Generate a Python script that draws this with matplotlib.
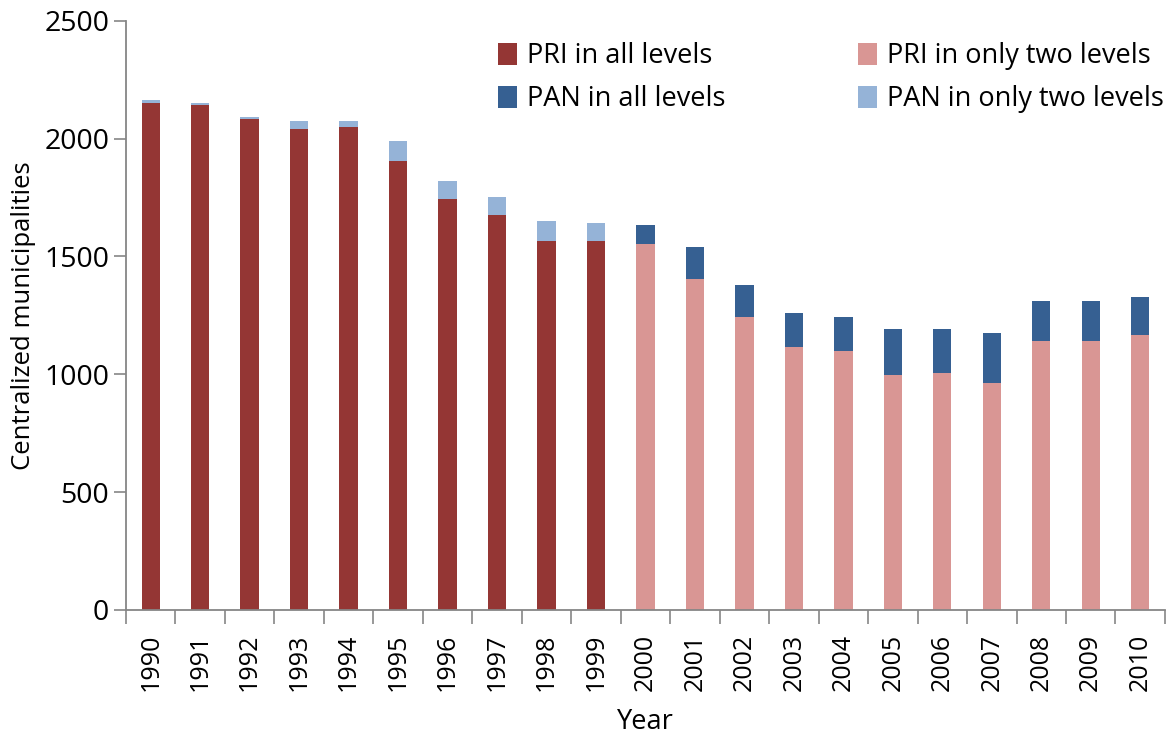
import numpy as np
import matplotlib
matplotlib.use("Agg")
import matplotlib.pyplot as plt

plt.rcParams['font.family'] = ['Open Sans', 'DejaVu Sans']

years = [str(y) for y in range(1990, 2011)]

# values (0 = series absent that year)
pri_all = [2150, 2143, 2084, 2042, 2050, 1904, 1744, 1675, 1565, 1565,
           0, 0, 0, 0, 0, 0, 0, 0, 0, 0, 0]
pri_two = [0, 0, 0, 0, 0, 0, 0, 0, 0, 0,
           1553, 1404, 1242, 1115, 1098, 996, 1005, 962, 1140, 1140, 1166]
pan_all = [0, 0, 0, 0, 0, 0, 0, 0, 0, 0,
           82, 137, 137, 144, 144, 195, 186, 212, 170, 170, 161]
pan_two = [12, 8, 7, 33, 25, 85, 76, 77, 86, 76,
           0, 0, 0, 0, 0, 0, 0, 0, 0, 0, 0]

c_pri_all = '#943634'
c_pri_two = '#d99694'
c_pan_all = '#366092'
c_pan_two = '#95b3d7'

fig = plt.figure(figsize=(11.76, 7.42), dpi=100)
ax = fig.add_axes([0.1071, 0.178, 0.8835, 0.794])

x = np.arange(len(years))
w = 0.37
pri_all = np.array(pri_all)
pri_two = np.array(pri_two)
pan_all = np.array(pan_all)
pan_two = np.array(pan_two)

b1 = ax.bar(x, pri_all, w, color=c_pri_all, label='PRI in all levels')
b2 = ax.bar(x, pri_two, w, bottom=pri_all, color=c_pri_two, label='PRI in only two levels')
base = pri_all + pri_two
b3 = ax.bar(x, pan_all, w, bottom=base, color=c_pan_all, label='PAN in all levels')
b4 = ax.bar(x, pan_two, w, bottom=base + pan_all, color=c_pan_two, label='PAN in only two levels')

ax.set_xlim(-0.5, len(years) - 0.5)
ax.set_ylim(0, 2500)
ax.set_yticks([0, 500, 1000, 1500, 2000, 2500])
ax.tick_params(axis='y', labelsize=20.5, length=9, width=1.2, color='#868686', pad=3)

ax.set_xticks(x)
ax.set_xticklabels(years, rotation=90, fontsize=18)
ax.set_xticks(np.arange(-0.5, len(years), 1.0), minor=True)
ax.tick_params(axis='x', which='major', length=0, pad=17)
ax.tick_params(axis='x', which='minor', length=10, width=1.2, color='#868686')

for s in ['top', 'right']:
    ax.spines[s].set_visible(False)
for s in ['left', 'bottom']:
    ax.spines[s].set_color('#868686')
    ax.spines[s].set_linewidth(1.3)

ax.set_ylabel('Centralized municipalities', fontsize=18.5, labelpad=6)
ax.set_xlabel('Year', fontsize=19.5, labelpad=12)

ax.legend([b1, b3, b2, b4],
          ['PRI in all levels', 'PAN in all levels',
           'PRI in only two levels', 'PAN in only two levels'],
          ncol=2, frameon=False, fontsize=19.5, loc='upper right',
          bbox_to_anchor=(1.022, 1.005), handlelength=0.7, handleheight=0.9,
          handletextpad=0.35, columnspacing=4.9, labelspacing=0.55)

fig.savefig('out.png', dpi=100)
